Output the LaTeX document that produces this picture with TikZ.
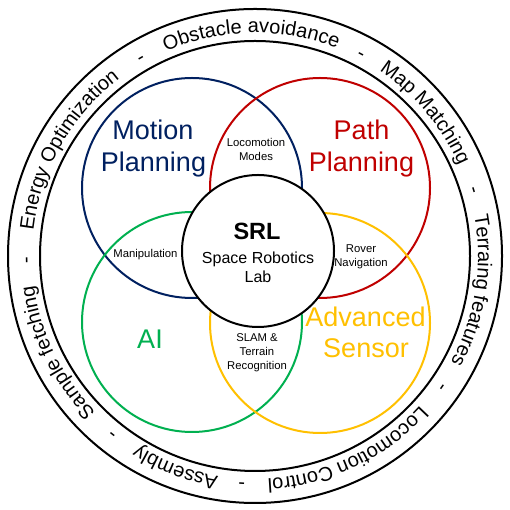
\documentclass[tikz,border=0pt]{standalone}
\usepackage{fontspec}
\setmainfont{Liberation Sans}
\usetikzlibrary{decorations.text}
\definecolor{mpblue}{HTML}{002060}
\definecolor{ppred}{HTML}{C00000}
\definecolor{aigreen}{HTML}{00B050}
\definecolor{asyellow}{HTML}{FFC000}
\newcommand\RingPhrase[2]{%
  \path[shift={(255,254)}, decorate,
        decoration={text along path, text align=center,
                    text={|\fontsize{20}{20}\selectfont|#2}}]
    ({#1+70}:223) arc[start angle={#1+70}, end angle={#1-70}, radius=223];}
\begin{document}
\begin{tikzpicture}[x=1pt,y=1pt,
  ringline/.style={draw=black, line width=2pt},
  venn/.style={line width=2pt},
  bigtxt/.style={font=\fontsize{27}{32}\selectfont, anchor=base, inner sep=0pt},
  smalltxt/.style={font=\fontsize{11.3}{14}\selectfont, align=center, inner sep=0pt},
  dashtxt/.style={font=\fontsize{20}{20}\selectfont, anchor=base, inner sep=0pt}]
\useasboundingbox (0,0) rectangle (510,510);
\fill[white] (0,0) rectangle (510,510);

% outer ring
\draw[ringline] (255,254) circle[radius=247];
\draw[ringline] (255,254) circle[radius=215];

% ring texts
\RingPhrase{91}{Obstacle avoidance}
\RingPhrase{40}{Map Matching}
\RingPhrase{-9}{Terraing features}
\RingPhrase{-64.5}{Locomotion Control}
\RingPhrase{-110.6}{Assembly}
\RingPhrase{-154}{Sample fetching}
\RingPhrase{150.4}{Energy Optimization}

\begin{scope}[shift={(255,254)}]
  \node[dashtxt, rotate=-27.7] (d1) at (62.3:223) {-};
  \node[dashtxt, rotate=-73.3] (d2) at (16.7:223) {-};
  \node[dashtxt, rotate=-125] (d3) at (-35:223) {-};
  \node[dashtxt, rotate=-183.3] (d4) at (-93.3:223) {-};
  \node[dashtxt, rotate=-218.6] (d5) at (-128.6:223) {-};
  \node[dashtxt, rotate=-269] (d6) at (-179:223) {-};
  \node[dashtxt, rotate=30] (d7) at (120:223) {-};
\end{scope}

% venn circles
\draw[venn, mpblue] (192,322) circle[radius=110];
\draw[venn, ppred] (320,322) circle[radius=110];
\draw[venn, aigreen] (192,188) circle[radius=110];
\draw[venn, asyellow] (320,187) circle[radius=110];

% centre circle
\draw[ringline, fill=white] (258,259) circle[radius=76];

% big labels
\node[bigtxt, text=mpblue] (mp1) at (153,370) {Motion};
\node[bigtxt, text=mpblue] (mp2) at (153.5,338) {Planning};
\node[bigtxt, text=ppred] (pp1) at (361.5,370) {Path};
\node[bigtxt, text=ppred] (pp2) at (361.5,338) {Planning};
\node[bigtxt, text=aigreen] (ai) at (150,161) {AI};
\node[bigtxt, text=asyellow] (as1) at (365.5,183) {Advanced};
\node[bigtxt, text=asyellow] (as2) at (366,152) {Sensor};

% centre text
\node[anchor=base, inner sep=0pt, font=\fontsize{23.5}{28}\selectfont\bfseries] (srl) at (257,270) {SRL};
\node[anchor=base, inner sep=0pt, font=\fontsize{16}{19}\selectfont] (srl2) at (258,246) {Space Robotics};
\node[anchor=base, inner sep=0pt, font=\fontsize{16}{19}\selectfont] (srl3) at (258,227) {Lab};

% small labels
\node[smalltxt] (lm) at (256,360.5) {Locomotion\\Modes};
\node[smalltxt] (man) at (145.5,255) {Manipulation};
\node[smalltxt] (rn) at (361,253) {Rover\\Navigation};
\node[smalltxt] (slam) at (257,157) {SLAM \&\\Terrain\\Recognition};
\end{tikzpicture}
\end{document}
